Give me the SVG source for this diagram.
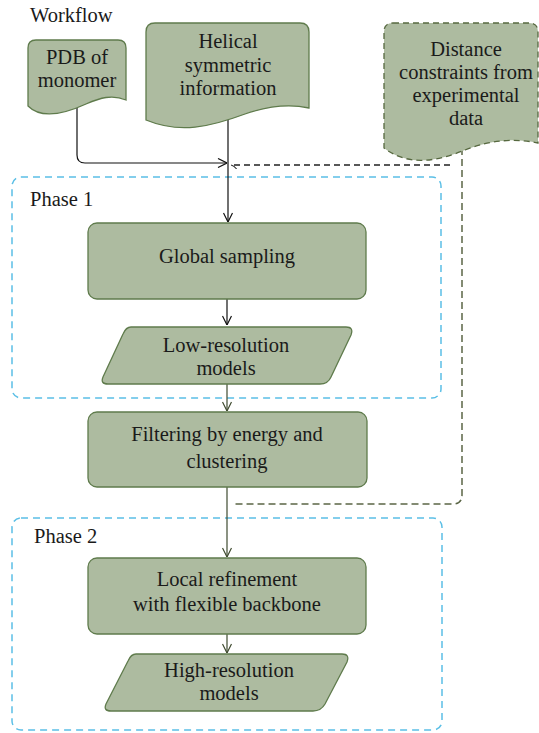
<svg xmlns="http://www.w3.org/2000/svg" width="539" height="733" viewBox="0 0 539 733">
<defs>
<style>
text{font-family:"Liberation Serif","Times New Roman",serif;font-size:20.5px;fill:#1a1a1a}
.c{text-anchor:middle}
.n{fill:#adbba0;stroke:#5f7b4c;stroke-width:1.3}
.nd{fill:#adbba0;stroke:#56683f;stroke-width:1.3;stroke-dasharray:6 4}
.ph{fill:none;stroke:#5bbfe6;stroke-width:1.5;stroke-dasharray:7 5}
.k{fill:none;stroke:#111;stroke-width:1.2}
.g{fill:none;stroke:#3f4a2f;stroke-width:1.2}
.kd{fill:none;stroke:#222;stroke-width:1.3;stroke-dasharray:6 4}
.gd{fill:none;stroke:#5b6646;stroke-width:1.5;stroke-dasharray:7 4}
</style>
<marker id="ak" viewBox="0 0 10 10" refX="10" refY="5" markerWidth="10" markerHeight="10" markerUnits="userSpaceOnUse" orient="auto"><path d="M1,0.5 L10,5 L1,9.5" fill="none" stroke="#111" stroke-width="1.2"/></marker>
<marker id="ag" viewBox="0 0 10 10" refX="10" refY="5" markerWidth="10" markerHeight="10" markerUnits="userSpaceOnUse" orient="auto"><path d="M1,0.5 L10,5 L1,9.5" fill="none" stroke="#3f4a2f" stroke-width="1.2"/></marker>
<marker id="ad" viewBox="0 0 10 10" refX="10" refY="5" markerWidth="8" markerHeight="8" markerUnits="userSpaceOnUse" orient="auto"><path d="M3,0 Q6,4 10,5" fill="none" stroke="#222" stroke-width="1.3"/></marker>
</defs>
<g font-family="'Liberation Serif', 'Times New Roman', serif">
<text x="30" y="22">Workflow</text>
<g id="phase1"><rect class="ph" x="12" y="177" width="429" height="221" rx="9"/><text x="30" y="206">Phase 1</text></g>
<g id="phase2"><rect class="ph" x="12" y="518" width="430" height="212" rx="9"/><text x="34" y="543">Phase 2</text></g>
<g id="connectors">
<path class="k" d="M77,108 V155 Q77,163 85,163 H227" marker-end="url(#ak)"/>
<path class="k" d="M228,117 V222" marker-end="url(#ak)"/>
<path class="kd" d="M450,165 H231" marker-end="url(#ad)"/>
<path class="gd" d="M462,148 V495 Q462,504 453,504 H232"/>
<path class="k" d="M227,299 V325" marker-end="url(#ak)"/>
<path class="g" d="M227,384 V411" marker-end="url(#ag)"/>
<path class="g" d="M227,487 V557" marker-end="url(#ag)"/>
<path class="g" d="M227,634 V653" marker-end="url(#ag)"/>
</g>
<g id="pdb"><path class="n" d="M36,40 H118 Q126,40 126,48 V100 C112,94 100,98 86,104 C62,115 40,118 28,106 V48 Q28,40 36,40 Z"/><text class="c" x="77" y="64">PDB of</text><text class="c" x="77" y="87">monomer</text></g>
<g id="helical"><path class="n" d="M155,23 H300 Q309,23 309,32 V108 C290,104 268,106 245,114 C210,127 180,134 146,120 V32 Q146,23 155,23 Z"/><text class="c" x="228" y="48">Helical</text><text class="c" x="228" y="72">symmetric</text><text class="c" x="228" y="95">information</text></g>
<g id="distance"><path class="nd" d="M393,23 H529 Q538,23 538,32 V143 C515,138 490,140 465,150 C440,160 410,168 384,148 V32 Q384,23 393,23 Z"/><text class="c" x="466" y="56">Distance</text><text class="c" x="466" y="79">constraints from</text><text class="c" x="466" y="102">experimental</text><text class="c" x="466" y="125">data</text></g>
<g id="global"><rect class="n" x="88" y="223" width="278" height="76" rx="9"/><text class="c" x="227" y="263">Global sampling</text></g>
<g id="lowres"><path class="n" d="M131,327 H346 Q354,327 351,335 L331,377 Q328,384 320,384 H108 Q100,384 103,377 L123,334 Q126,327 131,327 Z"/><text class="c" x="226" y="352">Low-resolution</text><text class="c" x="226" y="375">models</text></g>
<g id="filter"><rect class="n" x="88" y="412" width="279" height="75" rx="9"/><text class="c" x="227" y="441">Filtering by energy and</text><text class="c" x="227" y="468">clustering</text></g>
<g id="local"><rect class="n" x="88" y="558" width="278" height="76" rx="9"/><text class="c" x="227" y="586">Local refinement</text><text class="c" x="227" y="611">with flexible backbone</text></g>
<g id="highres"><path class="n" d="M136,654 H342 Q350,654 347,662 L325,704 Q321,711 313,711 H111 Q103,711 106,704 L128,661 Q131,654 136,654 Z"/><text class="c" x="229" y="677">High-resolution</text><text class="c" x="229" y="700">models</text></g>
</g>
</svg>
